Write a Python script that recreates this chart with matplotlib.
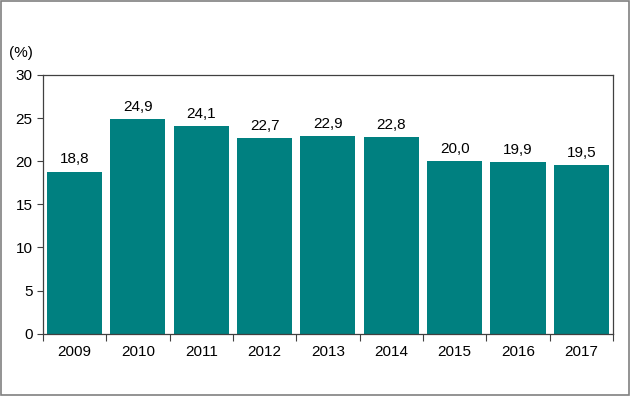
import matplotlib.pyplot as plt
import matplotlib as mpl
from matplotlib.patches import Rectangle

mpl.rcParams['font.family'] = ['Liberation Sans', 'DejaVu Sans']

years = ['2009', '2010', '2011', '2012', '2013', '2014', '2015', '2016', '2017']
values = [18.8, 24.9, 24.1, 22.7, 22.9, 22.8, 20.0, 19.9, 19.5]

fig = plt.figure(figsize=(6.3, 3.96), dpi=100)
ax = fig.add_axes([0.068, 0.157, 0.905, 0.654])

x = range(len(years))
bars = ax.bar(x, values, width=0.87, color='#008080', zorder=2)
for xi, v in zip(x, values):
    ax.text(xi, v + 0.6, f'{v:.1f}'.replace('.', ','), ha='center', va='bottom', fontsize=11)

ax.set_xlim(-0.5, len(years) - 0.5)
ax.set_ylim(0, 30)
ax.set_yticks(range(0, 31, 5))
ax.tick_params(axis='y', labelsize=11, length=4, width=0.8, color='#404040')
ax.set_xticks(x)
ax.set_xticklabels(years, fontsize=11)
ax.tick_params(axis='x', length=0, pad=8)
# tick marks between categories
ax.set_xticks([i - 0.5 for i in range(len(years) + 1)], minor=True)
ax.tick_params(axis='x', which='minor', length=5, width=0.8, color='#404040')
for s in ax.spines.values():
    s.set_color('#404040')
    s.set_linewidth(0.9)

fig.text(0.014, 0.855, '(%)', fontsize=11)

fig.patches.append(Rectangle((0.001, 0.002), 0.997, 0.995, transform=fig.transFigure,
                             fill=False, edgecolor='#808080', linewidth=1.2))

plt.savefig('out.png', dpi=100)
